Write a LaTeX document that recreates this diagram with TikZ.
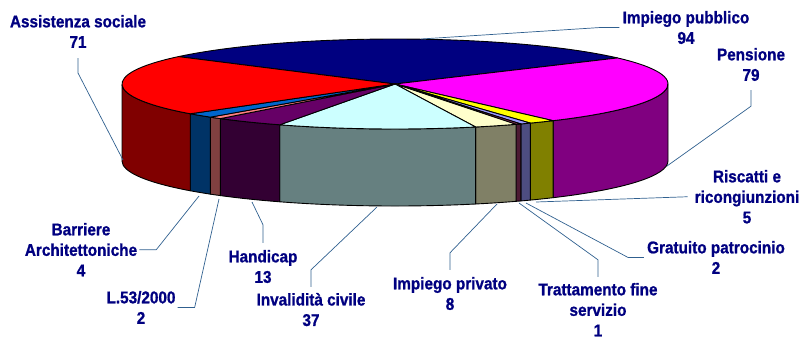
\documentclass[tikz,border=0pt]{standalone}
\usepackage{fontspec}
\newfontfamily\lblfont{Liberation Sans Bold}[FakeStretch=0.9, FakeBold=1]
\definecolor{lblblue}{HTML}{000080}
\definecolor{leadblue}{HTML}{30608F}
\definecolor{cPub}{HTML}{000080}\definecolor{cPubS}{HTML}{000040}
\definecolor{cPen}{HTML}{FF00FF}\definecolor{cPenS}{HTML}{800080}
\definecolor{cRis}{HTML}{FFFF00}\definecolor{cRisS}{HTML}{808000}
\definecolor{cGra}{HTML}{9999FF}\definecolor{cGraS}{HTML}{4D4D80}
\definecolor{cTra}{HTML}{993366}\definecolor{cTraS}{HTML}{4D1A33}
\definecolor{cPri}{HTML}{FFFFCC}\definecolor{cPriS}{HTML}{808066}
\definecolor{cInv}{HTML}{CCFFFF}\definecolor{cInvS}{HTML}{668080}
\definecolor{cHan}{HTML}{660066}\definecolor{cHanS}{HTML}{330033}
\definecolor{cLeg}{HTML}{FF8080}\definecolor{cLegS}{HTML}{804040}
\definecolor{cBar}{HTML}{0066CC}\definecolor{cBarS}{HTML}{003366}
\definecolor{cAss}{HTML}{FF0000}\definecolor{cAssS}{HTML}{800000}
\tikzset{
  lbl/.style={font=\lblfont\fontsize{17}{20.5}\selectfont, text=lblblue,
    align=center, inner sep=0pt, anchor=north},
  leader/.style={draw=leadblue, line width=0.7pt},
  slice/.style={draw=black, line width=0.9pt, line join=round},
}
\begin{document}
\begin{tikzpicture}[x=1pt,y=-1pt]
\useasboundingbox (0,0) rectangle (802,341);

% the pie: side first, then top of each slice
\begin{scope}[shift={(395,84)}]
\foreach \a/\b/\ct/\cs in {-142.5/-35.41/cPub/cPubS, -35.41/54.59/cPen/cPenS,
    54.59/60.28/cRis/cRisS, 60.28/62.56/cGra/cGraS, 62.56/63.70/cTra/cTraS,
    63.70/72.82/cPri/cPriS, 72.82/114.97/cInv/cInvS, 114.97/129.78/cHan/cHanS,
    129.78/132.56/cLeg/cLegS, 132.56/138.6/cBar/cBarS, 138.6/217.5/cAss/cAssS}{
  \pgfmathsetmacro\sa{max(\a,0)}
  \pgfmathsetmacro\sb{min(\b,180)}
  \ifdim\sa pt<\sb pt
    \draw[slice, fill=\cs] (\sa:273 and 45) -- ++(0,77)
      arc[start angle=\sa, end angle=\sb, x radius=273, y radius=45] -- ++(0,-77)
      arc[start angle=\sb, end angle=\sa, x radius=273, y radius=45] -- cycle;
  \fi
  \draw[slice, fill=\ct] (0,0) -- (\a:273 and 45)
    arc[start angle=\a, end angle=\b, x radius=273, y radius=45] -- cycle;
}
\end{scope}

% where the leaders meet the pie
\coordinate (eAss) at (123,160);
\coordinate (ePub) at (421,39);
\coordinate (ePen) at (667,166);
\coordinate (eRis) at (536,202);
\coordinate (eGra) at (526,203);
\coordinate (eTra) at (519,203);
\coordinate (ePri) at (497,204);
\coordinate (eInv) at (377,207);
\coordinate (eHan) at (252,202);
\coordinate (eLeg) at (219,199);
\coordinate (eBar) at (199,196);

% labels
\node[lbl] (ass) at (78,14.8) {Assistenza sociale\\71};
\node[lbl] (pub) at (686,10.8) {Impiego pubblico\\94};
\node[lbl] (pen) at (751,47.8) {Pensione\\79};
\node[lbl] (ris) at (747,169.8) {Riscatti e\\ricongiunzioni\\5};
\node[lbl] (gra) at (716,240.8) {Gratuito patrocinio\\2};
\node[lbl] (tra) at (598,282.8) {Trattamento fine\\servizio\\1};
\node[lbl] (pri) at (450,276.8) {Impiego privato\\8};
\node[lbl] (inv) at (311,292.8) {Invalidità civile\\37};
\node[lbl] (han) at (263,249.8) {Handicap\\13};
\node[lbl] (leg) at (141,290.8) {L.53/2000\\2};
\node[lbl] (bar) at (81,222.8) {Barriere\\Architettoniche\\4};

% leaders
\draw[leader] (ass.south) ++(0,10) -- ++(0,15) -- (eAss);
\draw[leader] (pub.west) ++(-3,0) -- ++(-19,0) -- (ePub);
\draw[leader] (pen.south) ++(0,9) -- ++(0,16) -- (ePen);
\draw[leader] (ris.west) ++(-7,0) -- (eRis);
\draw[leader] (gra.west) ++(-3,0) -- ++(-16,0) -- (eGra);
\draw[leader] (tra.north) ++(0,-6) -- ++(0,-17) -- (eTra);
\draw[leader] (pri.north) ++(0,-7) -- ++(0,-17) -- (ePri);
\draw[leader] (inv.north) ++(0,-6) -- ++(0,-17) -- (eInv);
\draw[leader] (han.north) ++(0,-7) -- ++(0,-18) -- (eHan);
\draw[leader] (leg.east) ++(2,0) -- ++(17,0) -- (eLeg);
\draw[leader] (bar.east) ++(2,0) -- ++(17,0) -- (eBar);
\end{tikzpicture}
\end{document}
